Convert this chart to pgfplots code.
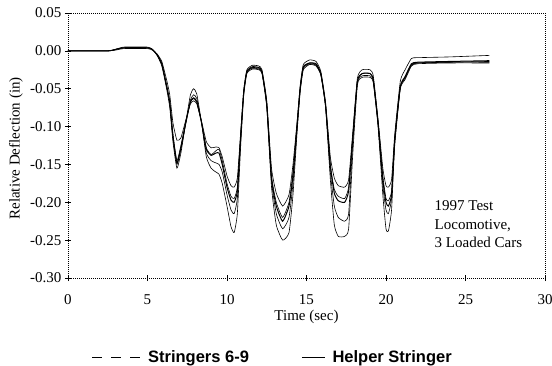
\documentclass[border=0pt]{standalone}
\usepackage{fontspec}
\setmainfont{Liberation Serif}
\newfontfamily\legfont{Liberation Sans}
\usepackage{pgfplots}
\usepackage{pgfplotstable}
\pgfplotsset{compat=1.18}
\pgfplotstableread{
t A B C D E
0 0 0 0 0 0
2.5 0 0 0 0 0
3.0 0.002 0.002 0.002 0.001 0.002
3.5 0.005 0.004 0.004 0.003 0.004
5.0 0.005 0.004 0.004 0.003 0.004
5.3 0.002 0.002 0.002 0.001 0.002
5.6 -0.006 -0.005 -0.005 -0.004 -0.005
5.9 -0.020 -0.018 -0.017 -0.014 -0.017
6.2 -0.050 -0.047 -0.045 -0.038 -0.046
6.4 -0.075 -0.070 -0.067 -0.058 -0.068
6.6 -0.120 -0.115 -0.110 -0.095 -0.112
6.85 -0.155 -0.150 -0.145 -0.118 -0.148
7.1 -0.135 -0.130 -0.125 -0.115 -0.128
7.4 -0.095 -0.097 -0.095 -0.092 -0.096
7.7 -0.058 -0.065 -0.068 -0.070 -0.067
7.9 -0.050 -0.058 -0.063 -0.066 -0.062
8.1 -0.057 -0.063 -0.068 -0.070 -0.067
8.4 -0.095 -0.095 -0.095 -0.093 -0.095
8.7 -0.140 -0.135 -0.128 -0.120 -0.130
9.0 -0.155 -0.145 -0.137 -0.128 -0.138
9.3 -0.160 -0.148 -0.132 -0.127 -0.135
9.5 -0.163 -0.150 -0.130 -0.128 -0.135
9.7 -0.175 -0.160 -0.145 -0.140 -0.150
10.0 -0.205 -0.190 -0.175 -0.165 -0.180
10.25 -0.232 -0.210 -0.192 -0.178 -0.197
10.45 -0.240 -0.215 -0.195 -0.180 -0.200
10.65 -0.215 -0.195 -0.180 -0.168 -0.185
10.85 -0.130 -0.120 -0.115 -0.110 -0.117
11.05 -0.060 -0.056 -0.055 -0.052 -0.055
11.25 -0.030 -0.028 -0.028 -0.025 -0.027
11.6 -0.024 -0.023 -0.022 -0.019 -0.021
12.0 -0.025 -0.024 -0.023 -0.020 -0.022
12.2 -0.030 -0.029 -0.028 -0.025 -0.027
12.5 -0.075 -0.072 -0.070 -0.066 -0.070
12.8 -0.180 -0.172 -0.165 -0.155 -0.168
13.1 -0.230 -0.215 -0.200 -0.188 -0.205
13.5 -0.250 -0.235 -0.220 -0.205 -0.225
13.9 -0.240 -0.220 -0.200 -0.190 -0.205
14.15 -0.190 -0.175 -0.160 -0.150 -0.165
14.4 -0.110 -0.105 -0.100 -0.095 -0.100
14.6 -0.055 -0.052 -0.050 -0.046 -0.050
14.8 -0.025 -0.023 -0.022 -0.018 -0.021
15.2 -0.018 -0.017 -0.016 -0.012 -0.016
15.6 -0.020 -0.019 -0.018 -0.014 -0.017
15.9 -0.032 -0.031 -0.030 -0.027 -0.030
16.2 -0.075 -0.073 -0.072 -0.068 -0.072
16.5 -0.170 -0.160 -0.150 -0.140 -0.152
16.75 -0.230 -0.205 -0.183 -0.168 -0.188
17.0 -0.245 -0.220 -0.192 -0.178 -0.198
17.4 -0.245 -0.225 -0.195 -0.180 -0.200
17.65 -0.235 -0.215 -0.180 -0.170 -0.185
17.9 -0.140 -0.125 -0.116 -0.110 -0.118
18.2 -0.045 -0.042 -0.040 -0.036 -0.040
18.5 -0.035 -0.033 -0.030 -0.025 -0.030
19.0 -0.035 -0.033 -0.030 -0.025 -0.030
19.2 -0.042 -0.040 -0.038 -0.033 -0.038
19.5 -0.100 -0.097 -0.094 -0.090 -0.095
19.8 -0.190 -0.178 -0.165 -0.155 -0.170
20.0 -0.235 -0.210 -0.195 -0.178 -0.200
20.15 -0.238 -0.215 -0.198 -0.180 -0.205
20.35 -0.210 -0.195 -0.185 -0.170 -0.190
20.55 -0.125 -0.120 -0.116 -0.110 -0.118
20.9 -0.050 -0.048 -0.048 -0.040 -0.047
21.2 -0.038 -0.036 -0.035 -0.025 -0.034
21.6 -0.020 -0.019 -0.018 -0.010 -0.017
22.0 -0.017 -0.016 -0.016 -0.009 -0.015
24.0 -0.016 -0.015 -0.015 -0.008 -0.014
26.5 -0.016 -0.015 -0.014 -0.006 -0.013
}\data
\begin{document}
\begin{tikzpicture}
\path[use as bounding box] (-68pt,-87pt) rectangle (484pt,278pt);
\begin{axis}[
  at={(0,0)}, anchor=south west,
  scale only axis, width=477pt, height=265pt,
  xmin=0, xmax=30, ymin=-0.30, ymax=0.05,
  xtick={0,5,10,15,20,25,30},
  ytick={-0.3,-0.25,-0.2,-0.15,-0.1,-0.05,0,0.05},
  yticklabel style={/pgf/number format/.cd, fixed, fixed zerofill, precision=2},
  /pgf/number format/assume math mode=true,
  tick label style={font=\fontsize{15}{18}\selectfont},
  xticklabel style={yshift=-10pt},
  xtick pos=bottom, ytick pos=left, tick align=center, major tick length=6pt,
  axis line style={dash pattern=on 1pt off 1pt, line width=0.6pt},
  tick style={line width=0.6pt, black, solid},
  xlabel={Time (sec)}, ylabel={Relative Deflection (in)},
  label style={font=\fontsize{15}{18}\selectfont},
  xlabel style={at={(axis description cs:0.5,-0.145)}, anchor=center},
  ylabel style={at={(axis description cs:-0.109,0.489)}, anchor=center},
  legend style={at={(0.429,-0.3)}, anchor=center, draw=none, fill=none,
    font=\legfont\bfseries\fontsize{16.5}{19}\selectfont, inner sep=0pt,
    /tikz/every even column/.append style={column sep=50pt}},
  legend columns=2, legend cell align=left,
  clip=false,
]
\addlegendimage{legend image code/.code={\draw[line width=1.6pt, dash pattern=on 10pt off 9pt] (0pt,0pt) -- (48pt,0pt);}}
\addlegendentry{\hspace{5pt}Stringers 6-9}
\addlegendimage{legend image code/.code={\draw[line width=1.6pt] (0pt,0pt) -- (23pt,0pt);}}
\addlegendentry{\hspace{5pt}Helper Stringer}
\addplot[black, line width=0.6pt, smooth, tension=0.3, forget plot] table[x=t, y=A] {\data};
\addplot[black, line width=0.6pt, smooth, tension=0.3, forget plot] table[x=t, y=B] {\data};
\addplot[black, line width=0.6pt, smooth, tension=0.3, forget plot] table[x=t, y=C] {\data};
\addplot[black, line width=0.6pt, smooth, tension=0.3, forget plot] table[x=t, y=D] {\data};
\addplot[black, line width=1.0pt, smooth, tension=0.3, forget plot] table[x=t, y=E] {\data};
\node[anchor=north west, align=left, inner sep=0pt, font=\fontsize{15}{18.5}\selectfont] at (axis cs:23.05,-0.198) {1997 Test\\Locomotive,\\3 Loaded Cars};
\end{axis}
\end{tikzpicture}
\end{document}
